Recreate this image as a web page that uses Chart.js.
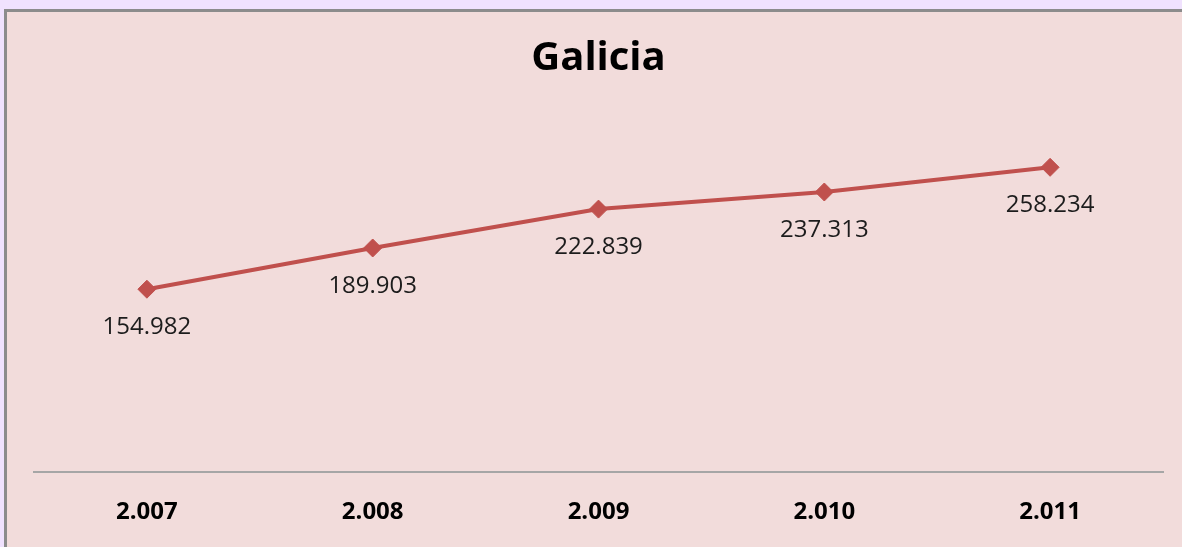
<!DOCTYPE html>
<html>
<head>
<meta charset="utf-8">
<script src="https://cdn.jsdelivr.net/npm/chart.js@4.4.1/dist/chart.umd.min.js"></script>
<style>
  html, body { margin: 0; padding: 0; width: 1182px; height: 547px; overflow: hidden; background: #f0e2fe; }
  #box { position: absolute; left: 4px; top: 9px; width: 1300px; height: 700px; background: #f2dcdb;
         border-left: 3px solid #8c8c8c; border-top: 3px solid #8c8c8c; }
  #wrap { position: absolute; left: 0; top: 0; width: 1182px; height: 553px; }
</style>
</head>
<body>
<div id="box"></div>
<div id="wrap"><canvas id="c" width="1182" height="553"></canvas></div>
<script>
const categories = ["2.007", "2.008", "2.009", "2.010", "2.011"];
const values = [154982, 189903, 222839, 237313, 258234];
const valueLabels = ["154.982", "189.903", "222.839", "237.313", "258.234"];
const title = "Galicia";

const labelPlugin = {
  id: 'valueLabels',
  afterDatasetsDraw(chart) {
    const ctx = chart.ctx;
    const meta = chart.getDatasetMeta(0);
    ctx.save();
    ctx.font = '24px "Open Sans"';
    ctx.fillStyle = '#1c1c1c';
    ctx.textAlign = 'center';
    ctx.textBaseline = 'middle';
    meta.data.forEach((pt, i) => {
      ctx.fillText(valueLabels[i], pt.x, pt.y + 38);
    });
    ctx.restore();
  }
};

new Chart(document.getElementById('c'), {
  type: 'line',
  data: {
    labels: categories,
    datasets: [{
      data: values,
      borderColor: '#c0504d',
      backgroundColor: '#c0504d',
      borderWidth: 4,
      pointStyle: 'rectRot',
      pointRadius: 9,
      pointBorderWidth: 1,
      pointHoverRadius: 9,
      tension: 0
    }]
  },
  options: {
    responsive: false,
    animation: false,
    events: [],
    layout: { padding: { left: 34, right: 19, top: 0, bottom: 0 } },
    plugins: {
      legend: { display: false },
      tooltip: { enabled: false },
      title: {
        display: true,
        text: title,
        color: '#000',
        font: { family: '"Open Sans"', size: 40, weight: 'bold', lineHeight: 1.2 },
        padding: { top: 35, bottom: 35 }
      }
    },
    scales: {
      x: {
        offset: true,
        grid: { display: false, drawTicks: false },
        border: { display: true, color: '#a6a6a6', width: 2 },
        ticks: {
          color: '#000',
          padding: 26,
          font: { family: '"Open Sans"', size: 24, weight: 'bold', lineHeight: 1.2 }
        }
      },
      y: {
        display: false,
        min: 0,
        max: 300000
      }
    }
  },
  plugins: [labelPlugin]
});
</script>
</body>
</html>
